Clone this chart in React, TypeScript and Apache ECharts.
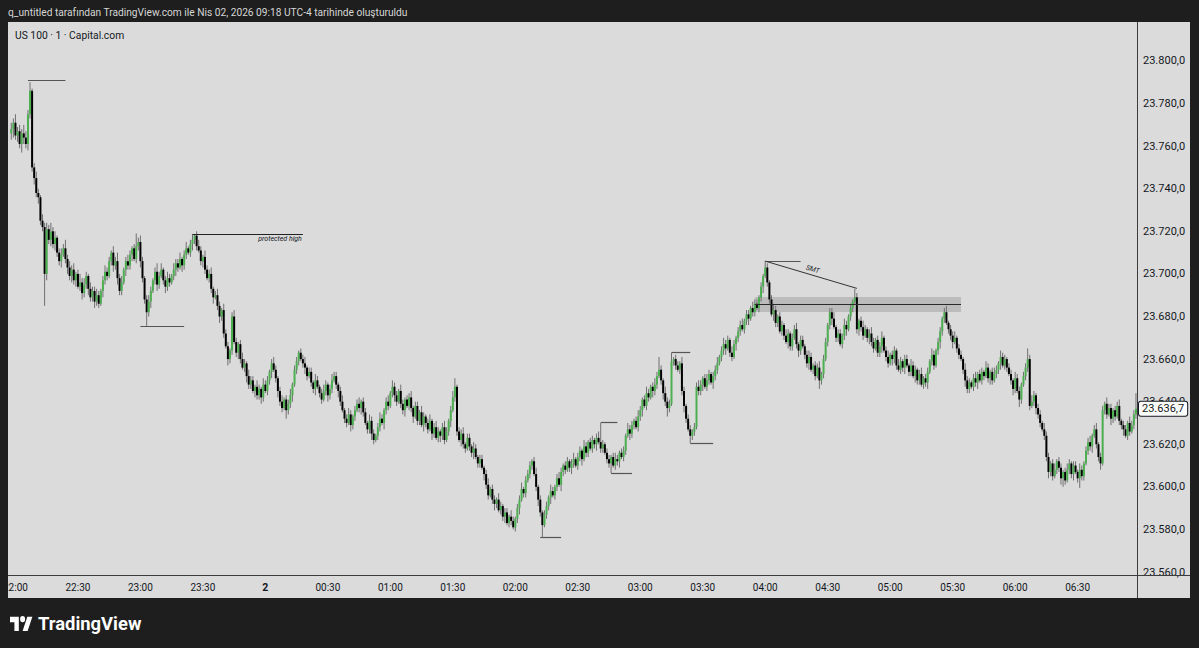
import React, { useEffect, useRef } from "react";
import * as echarts from "echarts";

// ---- data (US 100, 1 minute, Capital.com) ----
const firstOpen = 23766;
const startMinute = 21 * 60 + 58; // first candle 21:58
const closes = [
  23768, 23771, 23765, 23767, 23761, 23766, 23764, 23761, 23775, 23786,
  23750, 23745, 23738, 23736, 23725, 23722, 23700, 23721, 23716, 23720,
  23714, 23717, 23710, 23706, 23709, 23712, 23707, 23703, 23699, 23702,
  23697, 23700, 23694, 23696, 23691, 23695, 23699, 23693, 23689, 23692,
  23687, 23690, 23686, 23692, 23697, 23701, 23699, 23706, 23710, 23704,
  23706, 23698, 23692, 23696, 23702, 23706, 23704, 23709, 23712, 23707,
  23713, 23715, 23706, 23698, 23688, 23682, 23687, 23692, 23697, 23701,
  23695, 23699, 23702, 23697, 23694, 23698, 23696, 23699, 23702, 23705,
  23703, 23707, 23704, 23709, 23712, 23710, 23714, 23716, 23718, 23713,
  23711, 23706, 23708, 23702, 23698, 23700, 23693, 23689, 23690, 23685,
  23680, 23683, 23672, 23666, 23660, 23664, 23680, 23668, 23663, 23667,
  23660, 23656, 23658, 23652, 23648, 23650, 23645, 23647, 23643, 23646,
  23642, 23648, 23645, 23650, 23654, 23658, 23655, 23651, 23645, 23640,
  23637, 23641, 23636, 23639, 23643, 23648, 23655, 23659, 23663, 23660,
  23658, 23656, 23652, 23654, 23649, 23646, 23650, 23647, 23644, 23641,
  23645, 23648, 23643, 23646, 23650, 23652, 23648, 23645, 23640, 23636,
  23632, 23630, 23634, 23629, 23633, 23636, 23639, 23637, 23640, 23635,
  23630, 23627, 23631, 23625, 23622, 23624, 23628, 23632, 23630, 23636,
  23640, 23638, 23644, 23647, 23643, 23640, 23645, 23639, 23636, 23641,
  23638, 23642, 23637, 23633, 23638, 23631, 23635, 23629, 23633, 23630,
  23627, 23631, 23625, 23628, 23623, 23626, 23624, 23628, 23622, 23626,
  23631, 23636, 23642, 23647, 23626, 23622, 23625, 23620, 23618, 23623,
  23619, 23616, 23618, 23614, 23611, 23613, 23609, 23606, 23601, 23596,
  23599, 23594, 23592, 23594, 23589, 23591, 23586, 23588, 23583, 23586,
  23584, 23581, 23585, 23590, 23594, 23599, 23597, 23603, 23606, 23610,
  23612, 23606, 23600, 23594, 23588, 23582, 23587, 23591, 23595, 23598,
  23596, 23600, 23604, 23601, 23607, 23610, 23608, 23612, 23609, 23611,
  23613, 23610, 23614, 23617, 23613, 23619, 23616, 23621, 23618, 23622,
  23620, 23623, 23621, 23618, 23620, 23616, 23613, 23611, 23614, 23610,
  23613, 23612, 23616, 23614, 23617, 23624, 23627, 23625, 23629, 23631,
  23628, 23633, 23636, 23641, 23638, 23644, 23642, 23647, 23645, 23648,
  23652, 23655, 23650, 23644, 23640, 23637, 23639, 23659, 23660, 23657,
  23655, 23658, 23645, 23638, 23632, 23627, 23624, 23626, 23628, 23647,
  23645, 23648, 23651, 23647, 23650, 23653, 23649, 23652, 23655, 23658,
  23661, 23664, 23667, 23665, 23669, 23663, 23661, 23667, 23670, 23673,
  23676, 23674, 23678, 23681, 23679, 23684, 23682, 23686, 23684, 23689,
  23694, 23699, 23703, 23696, 23688, 23681, 23683, 23677, 23680, 23673,
  23676, 23671, 23668, 23672, 23666, 23670, 23674, 23667, 23664, 23669,
  23666, 23662, 23658, 23661, 23655, 23657, 23652, 23656, 23650, 23653,
  23660, 23668, 23676, 23682, 23679, 23675, 23670, 23672, 23667, 23671,
  23676, 23674, 23680, 23684, 23687, 23689, 23674, 23678, 23675, 23671,
  23674, 23670, 23672, 23668, 23665, 23669, 23663, 23666, 23670, 23664,
  23661, 23658, 23662, 23660, 23664, 23657, 23655, 23659, 23656, 23660,
  23657, 23654, 23657, 23652, 23655, 23650, 23653, 23648, 23651, 23649,
  23654, 23659, 23662, 23657, 23664, 23668, 23673, 23679, 23682, 23677,
  23674, 23671, 23668, 23670, 23665, 23662, 23660, 23655, 23650, 23646,
  23649, 23647, 23651, 23649, 23653, 23650, 23654, 23652, 23656, 23651,
  23654, 23650, 23653, 23655, 23658, 23661, 23657, 23660, 23656, 23653,
  23650, 23646, 23651, 23645, 23641, 23648, 23652, 23656, 23660, 23638,
  23640, 23643, 23637, 23634, 23630, 23627, 23624, 23614, 23607, 23611,
  23605, 23608, 23612, 23609, 23604, 23607, 23603, 23608, 23611, 23606,
  23610, 23607, 23604, 23608, 23605, 23611, 23617, 23621, 23619, 23624,
  23627, 23620, 23614, 23611, 23636, 23639, 23634, 23637, 23632, 23636,
  23633, 23638, 23631, 23629, 23627, 23624, 23630, 23626, 23629, 23634,
  23636.7,
];
// points above the body top (upper wick) per candle
const upperWicks = [
  3, 2, 4, 2, 3, 2, 4, 3, 2, 4,
  1, 2, 3, 2, 1, 3, 2, 3, 2, 4,
  2, 3, 1, 2, 3, 2, 4, 2, 3, 2,
  3, 1, 2, 4, 2, 3, 2, 1, 3, 2,
  2, 3, 2, 1, 2, 3, 2, 2, 1, 3,
  2, 4, 2, 3, 1, 2, 3, 2, 1, 2,
  6, 2, 3, 2, 1, 2, 3, 2, 1, 2,
  4, 2, 3, 1, 2, 3, 2, 1, 3, 2,
  2, 3, 1, 2, 3, 1, 2, 2.7, 0.5, 2,
  3, 2, 1, 3, 2, 2, 3, 1, 2, 3,
  2, 1, 3, 2, 2, 1, 2, 3, 2, 1,
  2, 3, 2, 1, 3, 2, 2, 1, 3, 2,
  1, 3, 2, 2, 1, 2, 3, 2, 1, 2,
  3, 1, 2, 2, 3, 1, 2, 2, 1, 2,
  2, 3, 1, 2, 2, 1, 3, 2, 1, 2,
  3, 2, 1, 2, 3, 2, 2, 1, 2, 3,
  1, 2, 3, 2, 1, 2, 2, 3, 1, 2,
  2, 1, 3, 2, 2, 1, 2, 3, 2, 1,
  2, 3, 1, 3, 2, 2, 1, 3, 2, 1,
  2, 2, 3, 1, 2, 2, 1, 3, 2, 1,
  2, 3, 1, 2, 3, 2, 1, 2, 3, 2,
  1, 2, 3, 4, 1, 2, 2, 3, 1, 2,
  2, 1, 3, 2, 1, 2, 2, 1, 2, 3,
  1, 2, 2, 1, 3, 2, 1, 2, 2, 1,
  3, 2, 1, 2, 2, 3, 1, 2, 2, 2,
  1, 2, 3, 1, 2, 1, 2, 2, 1, 3,
  2, 1, 2, 3, 2, 1, 2, 2, 1, 2,
  3, 1, 2, 2, 1, 3, 2, 1, 2, 2,
  1, 2, 3, 9, 2, 1, 2, 2, 1, 2,
  3, 2, 1, 2, 2, 1, 3, 2, 2, 1,
  2, 3, 2, 1, 2, 3, 2, 1, 2, 3,
  2, 6, 2, 1, 3, 2, 2, 4, 1, 2,
  2, 1, 3, 2, 1, 2, 2, 1, 2, 2,
  3, 2, 1, 2, 3, 2, 1, 2, 2, 3,
  1, 2, 3, 2, 2, 1, 3, 2, 1, 2,
  2, 3, 1, 2, 2, 1, 3, 2, 2, 1,
  2, 1, 3, 2, 1, 2, 3, 2, 1, 2,
  2, 1, 3, 2, 1, 2, 2, 3, 1, 2,
  2, 1, 2, 3, 2, 1, 2, 2, 3, 1,
  2, 2, 1, 2, 2, 3, 1, 2, 2, 1,
  3, 2, 1, 2, 1, 4, 2, 1, 2, 3,
  2, 1, 2, 3, 2, 1, 2, 2, 3, 1,
  2, 3, 1, 2, 2, 1, 3, 2, 1, 2,
  2, 1, 3, 2, 2, 1, 2, 3, 1, 2,
  2, 1, 3, 2, 1, 2, 2, 1, 2, 3,
  1, 2, 2, 3, 1, 2, 2, 1, 3, 2,
  2, 1, 2, 3, 1, 2, 2, 1, 3, 2,
  1, 2, 3, 2, 1, 3, 2, 2, 1, 2,
  2, 1, 3, 2, 2, 1, 2, 2, 5, 2,
  3, 2, 1, 2, 2, 1, 3, 2, 2, 1,
  2, 3, 1, 2, 2, 1, 2, 3, 2, 1,
  2, 2, 1, 3, 2, 1, 2, 2, 3, 1,
  2, 3, 1, 2, 2, 1, 3, 2, 2, 1,
  2, 2, 3, 1, 2, 2, 1, 3, 2, 2,
  7.3,
];
// points below the body bottom (lower wick) per candle
const lowerWicks = [
  3, 4, 2, 3, 2, 4, 3, 2, 3, 2,
  2, 3, 2, 3, 2, 2, 15, 3, 2, 3,
  2, 3, 2, 2, 3, 1, 2, 3, 2, 3,
  2, 3, 1, 2, 3, 2, 2, 3, 2, 2,
  3, 2, 2, 1, 3, 2, 2, 1, 2, 3,
  2, 3, 2, 2, 1, 3, 2, 2, 3, 1,
  2, 2, 3, 2, 2, 6.5, 2, 3, 1, 2,
  3, 2, 1, 2, 3, 2, 2, 1, 2, 3,
  2, 1, 3, 2, 2, 1, 2, 3, 2, 2,
  1, 2, 3, 2, 1, 2, 2, 3, 1, 2,
  3, 2, 2, 1, 3, 2, 2, 1, 2, 3,
  2, 1, 2, 3, 2, 2, 1, 3, 2, 2,
  3, 2, 1, 2, 2, 3, 1, 2, 3, 2,
  2, 1, 4, 2, 2, 3, 1, 2, 2, 1,
  2, 3, 2, 1, 2, 2, 3, 1, 2, 2,
  1, 2, 3, 2, 2, 1, 2, 3, 2, 1,
  2, 2, 1, 3, 2, 2, 1, 2, 3, 2,
  1, 2, 2, 3, 2, 1, 2, 2, 1, 3,
  2, 2, 1, 2, 3, 2, 1, 2, 2, 3,
  1, 2, 2, 3, 1, 2, 2, 1, 3, 2,
  2, 1, 3, 2, 1, 2, 3, 2, 2, 1,
  2, 3, 1, 2, 2, 1, 3, 2, 2, 1,
  2, 2, 3, 1, 2, 2, 1, 3, 2, 2,
  1, 2, 3, 2, 1, 2, 2, 3, 1, 2,
  2, 1, 2, 2, 3, 1, 2, 2, 1, 2,
  2, 1, 2, 3, 2, 5.5, 1, 2, 2, 3,
  1, 2, 2, 1, 3, 2, 2, 1, 2, 3,
  2, 1, 2, 2, 3, 1, 2, 2, 1, 2,
  2, 3, 1, 2, 2, 1, 2, 2, 4.5, 1,
  2, 2, 3, 1, 2, 2, 1, 3, 2, 2,
  1, 2, 2, 3, 1, 2, 2, 1, 3, 2,
  2, 1, 2, 3, 2, 4, 2, 1, 2, 2,
  1, 2, 2, 3, 2, 1, 3.4, 2, 2, 1,
  2, 2, 3, 1, 2, 2, 1, 3, 2, 2,
  1, 2, 2, 3, 1, 2, 2, 1, 3, 2,
  2, 1, 2, 2, 3, 1, 2, 2, 1, 2,
  2, 3, 1, 2, 2, 1, 3, 2, 2, 1,
  2, 2, 1, 3, 2, 2, 1, 2, 3, 2,
  1, 2, 2, 3, 1, 2, 2, 1, 4, 2,
  2, 1, 2, 2, 3, 1, 2, 2, 1, 2,
  2, 3, 1, 2, 2, 1, 2, 3, 2, 2,
  1, 2, 3, 2, 2, 1, 2, 2, 3, 1,
  2, 2, 1, 3, 2, 2, 1, 2, 2, 3,
  1, 2, 2, 1, 3, 2, 2, 1, 2, 2,
  3, 1, 2, 2, 1, 2, 3, 2, 2, 1,
  2, 2, 3, 1, 2, 2, 1, 2, 3, 2,
  2, 1, 2, 2, 3, 1, 2, 2, 1, 2,
  3, 2, 1, 2, 2, 3, 1, 2, 2, 1,
  2, 3, 2, 1, 3.5, 2, 1, 2, 2, 2,
  1, 2, 3, 2, 2, 1, 2, 2, 3, 2,
  2, 1, 2, 2, 3, 4, 2, 1, 2, 2,
  3, 1, 2, 4.5, 2, 2, 1, 2, 2, 3,
  1, 2, 2, 3, 1, 2, 2, 1, 3, 2,
  2, 1, 2, 2, 3, 1, 2, 2, 1, 2,
  2,
];
const priceTicks = [23560, 23580, 23600, 23620, 23640, 23660, 23680, 23700, 23720, 23740, 23760, 23780, 23800];
const lastPrice = 23636.7;

// annotations: [startIndex, startPrice, endIndex, endPrice]
const highLows = [
  [8, 23791, 26, 23791],
  [62, 23675.5, 83, 23675.5],
  [254, 23576.4, 264, 23576.4],
  [283, 23630.2, 291, 23630.2],
  [288, 23606.5, 298, 23606.5],
  [317, 23663.3, 326, 23663.3],
  [326, 23620.6, 337, 23620.6],
  [362, 23706, 379, 23706],
];
const protectedHigh = [87, 23718.7, 140, 23718.7];
const smtLine = [362, 23706, 406, 23693.2];
const zone = [357, 23689.2, 456, 23682.1];
const zoneMid = 23685.9;

const FONT = "Roboto, 'Noto Sans', sans-serif";
const TEXT = "#131722";

function fmtPrice(v: number): string {
  const s = v.toFixed(1);
  const [ip, dp] = s.split(".");
  return ip.replace(/\B(?=(\d{3})+(?!\d))/g, ".") + "," + dp;
}

function pad(n: number) {
  return (n < 10 ? "0" : "") + n;
}

const categories: string[] = closes.map((_, i) => {
  const m = (startMinute + i) % 1440;
  return pad(Math.floor(m / 60)) + ":" + pad(m % 60);
});

const candles = closes.map((c, i) => {
  const o = i === 0 ? firstOpen : closes[i - 1];
  const hi = Math.max(o, c) + upperWicks[i];
  const lo = Math.min(o, c) - lowerWicks[i];
  return [i, o, c, lo, hi];
});

echarts.graphic.registerShape(
  "tvlogo",
  echarts.graphic.extendPath(
    "M14 22H7V11H0V4h14v18zM28 22h-8l7.5-18h8L28 22zM24 7a4 4 0 1 1 -8 0a4 4 0 1 1 8 0z",
    {}
  )
);

export default function App() {
  const ref = useRef<HTMLDivElement>(null);
  useEffect(() => {
    if (!ref.current) return;
    const chart = echarts.init(ref.current, undefined, { renderer: "svg" });
    const lineLabelOff = { show: false };
    const option: any = {
      animation: false,
      backgroundColor: "#1e1e1e",
      grid: { left: 5, right: 62, top: 22, bottom: 73, containLabel: false },
      xAxis: {
        type: "category",
        data: categories,
        boundaryGap: true,
        axisLine: { show: false },
        axisTick: { show: false },
        splitLine: { show: false },
        axisLabel: {
          interval: (_idx: number, val: string) => val.endsWith(":00") || val.endsWith(":30"),
          formatter: (val: string) => (val === "00:00" ? "{d|2}" : val),
          color: TEXT,
          fontSize: 10,
          fontFamily: FONT,
          margin: 7,
          rich: { d: { fontWeight: "bold", color: TEXT, fontSize: 10.5, fontFamily: FONT } },
        },
      },
      yAxis: {
        type: "value",
        position: "right",
        min: 23558.6,
        max: 23818.3,
        axisLine: { show: false },
        axisTick: { show: false },
        splitLine: { show: false },
        axisLabel: {
          customValues: priceTicks,
          formatter: (v: number) => fmtPrice(v),
          color: TEXT,
          fontSize: 11,
          fontFamily: FONT,
          margin: 6,
        },
      },
      graphic: [
        { type: "rect", z: -10, shape: { x: 8, y: 22, width: 1182, height: 576 }, style: { fill: "#dbdbdb" } },
        { type: "line", z: 50, shape: { x1: 1137.5, y1: 22, x2: 1137.5, y2: 598 }, style: { stroke: "#3c3c3c", lineWidth: 1 } },
        { type: "line", z: 50, shape: { x1: 8, y1: 575.5, x2: 1190, y2: 575.5 }, style: { stroke: "#3c3c3c", lineWidth: 1 } },
        { type: "rect", z: 100, shape: { x: 0, y: 22, width: 8, height: 576 }, style: { fill: "#1e1e1e" } },
        {
          type: "text", z: 100, x: 8, y: 12,
          style: {
            text: "q_untitled tarafından TradingView.com ile Nis 02, 2026 09:18 UTC-4 tarihinde oluşturuldu",
            fill: "#d6d6d6", font: `10.2px ${FONT}`, textVerticalAlign: "middle",
          },
        },
        {
          type: "text", z: 100, x: 15, y: 35,
          style: { text: "US 100 · 1 · Capital.com", fill: TEXT, font: `10.3px ${FONT}`, textVerticalAlign: "middle" },
        },
        { type: "tvlogo", z: 100, x: 10, y: 613.5, scaleX: 0.63, scaleY: 0.8, style: { fill: "#ffffff" } },
        {
          type: "text", z: 100, x: 38, y: 623,
          style: { text: "TradingView", fill: "#ffffff", font: `bold 18.4px ${FONT}`, textVerticalAlign: "middle" },
        },
      ],
      series: [
        {
          type: "custom",
          name: "US 100",
          clip: true,
          encode: { x: 0, y: [1, 2, 3, 4] },
          data: candles,
          renderItem: (params: any, api: any) => {
            const xv = api.value(0);
            const o = api.value(1);
            const c = api.value(2);
            const lo = api.value(3);
            const hi = api.value(4);
            const pHi = api.coord([xv, hi]);
            const pLo = api.coord([xv, lo]);
            const pTop = api.coord([xv, Math.max(o, c)]);
            const pBot = api.coord([xv, Math.min(o, c)]);
            const w = 2;
            const cx = pHi[0];
            return {
              type: "group",
              children: [
                {
                  type: "line",
                  shape: { x1: cx, y1: pHi[1], x2: cx, y2: pLo[1] },
                  style: { stroke: "#707070", lineWidth: 1 },
                },
                {
                  type: "rect",
                  shape: { x: cx - w / 2, y: pTop[1], width: w, height: Math.max(1, pBot[1] - pTop[1]) },
                  style: { fill: c >= o ? "#4caf50" : "#000000" },
                },
              ],
            };
          },
          markArea: {
            silent: true,
            itemStyle: { color: "rgba(150,150,150,0.45)" },
            data: [[{ coord: [zone[0], zone[1]] }, { coord: [zone[2], zone[3]] }]],
          },
          markLine: {
            silent: true,
            symbol: ["none", "none"],
            label: { show: false },
            data: [
              ...highLows.map((h) => [
                { coord: [h[0], h[1]], lineStyle: { color: "#555555", width: 1.2, type: "solid" }, label: lineLabelOff },
                { coord: [h[2], h[3]] },
              ]),
              [
                {
                  coord: [protectedHigh[0], protectedHigh[1]],
                  lineStyle: { color: "#222222", width: 1, type: "solid" },
                  label: {
                    show: true, position: "insideEndBottom", formatter: "protected high",
                    fontSize: 7, fontStyle: "italic", color: TEXT, fontFamily: FONT, distance: 1,
                  },
                },
                { coord: [protectedHigh[2], protectedHigh[3]] },
              ],
              [
                {
                  coord: [smtLine[0], smtLine[1]],
                  lineStyle: { color: "#333333", width: 1, type: "solid" },
                  label: {
                    show: true, position: "middle", formatter: "SMT",
                    fontSize: 7, fontStyle: "italic", color: TEXT, fontFamily: FONT, distance: 2,
                  },
                },
                { coord: [smtLine[2], smtLine[3]] },
              ],
              [
                { coord: [zone[0], zoneMid], lineStyle: { color: "#2a2a2a", width: 1, type: "solid" }, label: lineLabelOff },
                { coord: [zone[2], zoneMid] },
              ],
              {
                yAxis: lastPrice,
                lineStyle: { color: "rgba(0,0,0,0)", width: 1, type: "solid" },
                label: {
                  show: true, position: "end", formatter: fmtPrice(lastPrice),
                  color: TEXT, fontSize: 11, fontFamily: FONT,
                  backgroundColor: "#ffffff", borderColor: TEXT, borderWidth: 1,
                  borderRadius: 2, padding: [2, 3, 1, 3], distance: 2,
                },
              },
            ],
          },
        },
      ],
    };
    chart.setOption(option);
    return () => chart.dispose();
  }, []);
  return <div ref={ref} style={{ position: "absolute", left: 0, top: 0, width: 1199, height: 648 }} />;
}
